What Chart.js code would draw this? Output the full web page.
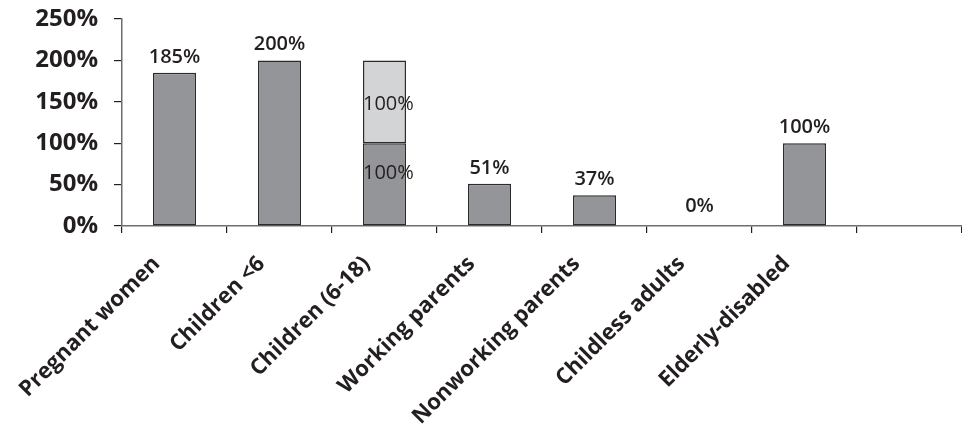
<!DOCTYPE html>
<html>
<head>
<meta charset="utf-8">
<script src="https://cdn.jsdelivr.net/npm/chart.js@4/dist/chart.umd.min.js"></script>
<style>
  html, body { margin: 0; padding: 0; background: #fff; }
  #wrap { width: 962px; height: 427px; }
</style>
</head>
<body>
<div id="wrap"><canvas id="eligibilityChart"></canvas></div>
<script>
// categories (last slot is empty, as in the original)
const categories = ['Pregnant women', 'Children <6', 'Children (6-18)', 'Working parents',
    'Nonworking parents', 'Childless adults', 'Elderly-disabled', ''];
// base threshold, % of poverty level
const baseValues = [185, 200, 100, 51, 37, 0, 100, null];
// extra eligibility stacked on top (children 6-18 only)
const extraValues = [null, null, 100, null, null, null, null, null];
const yTicks = [0, 50, 100, 150, 200, 250];

const FONT = '"Open Sans", "Noto Sans", sans-serif';
const TEXT = '#231f20';

// draws the value labels above bars / inside stacked segments
const valueLabels = {
    id: 'valueLabels',
    afterDatasetsDraw(chart) {
        const c = chart.ctx;
        const base = chart.getDatasetMeta(0);
        const extra = chart.getDatasetMeta(1);
        c.save();
        c.fillStyle = TEXT;
        baseValues.forEach((v, i) => {
            if (v === null) return;
            const bar = base.data[i];
            if (extraValues[i] !== null) {
                // stacked bar: labels inside each segment, regular weight
                const top = extra.data[i];
                c.font = '400 20px ' + FONT;
                c.textAlign = 'left';
                c.textBaseline = 'middle';
                const left = bar.x - bar.width / 2;
                c.fillText(extraValues[i] + '%', left, (top.y + top.base) / 2 + 2);
                c.fillText(v + '%', left, bar.y + 30);
            } else {
                c.font = '600 20px ' + FONT;
                c.textAlign = 'center';
                c.textBaseline = 'alphabetic';
                const gap = v === 0 ? 14 : 10;
                c.fillText(v + '%', bar.x, bar.y - gap);
            }
        });
        c.restore();
    }
};

const ctx = document.getElementById('eligibilityChart');
const eligibilityChart = new Chart(ctx, {
    type: 'bar',
    data: {
        labels: categories,
        datasets: [{
            label: 'Base',
            data: baseValues,
            backgroundColor: '#949598',
            borderColor: '#2b2b2b',
            borderWidth: 1.5,
            borderSkipped: false,
            categoryPercentage: 1,
            barPercentage: 0.41
        }, {
            label: 'Extra',
            data: extraValues,
            backgroundColor: '#d3d4d6',
            borderColor: '#2b2b2b',
            borderWidth: 1.5,
            borderSkipped: false,
            categoryPercentage: 1,
            barPercentage: 0.41
        }]
    },
    options: {
        responsive: true,
        maintainAspectRatio: false,
        animation: false,
        layout: { padding: { top: 19, right: 0, left: 0, bottom: 0 } },
        plugins: {
            legend: { display: false },
            tooltip: { enabled: false }
        },
        scales: {
            x: {
                stacked: true,
                afterFit: scale => { scale.height = 201; },
                border: { color: '#6d6e70', width: 1.5 },
                grid: {
                    offset: true,
                    drawOnChartArea: false,
                    drawTicks: true,
                    tickLength: 7,
                    color: '#231f20',
                    lineWidth: 1.2
                },
                ticks: {
                    maxRotation: 45,
                    minRotation: 45,
                    padding: 18,
                    labelOffset: -18,
                    color: TEXT,
                    font: { family: FONT, size: 22, weight: '700' }
                }
            },
            y: {
                stacked: true,
                min: 0,
                max: 250,
                afterFit: scale => {
                    scale.width = 122;
                    scale.paddingTop = 0;
                    scale.paddingBottom = 0;
                },
                afterBuildTicks: scale => { scale.ticks = yTicks.map(v => ({ value: v })); },
                border: { color: '#6d6e70', width: 1.5 },
                grid: {
                    drawOnChartArea: false,
                    drawTicks: true,
                    tickLength: 8,
                    color: '#231f20',
                    lineWidth: 1.2
                },
                ticks: {
                    padding: 16,
                    color: TEXT,
                    font: { family: FONT, size: 24, weight: '700' },
                    callback: v => v + '%'
                }
            }
        }
    },
    plugins: [valueLabels]
});
</script>
</body>
</html>
